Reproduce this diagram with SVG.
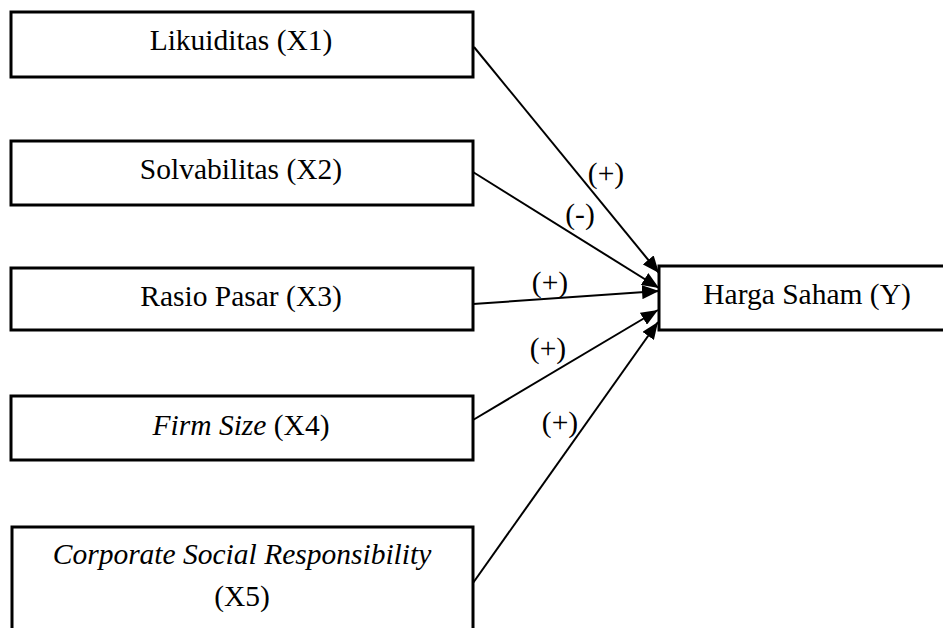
<svg xmlns="http://www.w3.org/2000/svg" width="943" height="628" viewBox="0 0 943 628">
<style>
.box{fill:#fff;stroke:#000;stroke-width:3}
.t{font-family:"Liberation Serif","Times New Roman",serif;font-size:29.5px;fill:#000;text-anchor:middle}
.i{font-style:italic}
.c{stroke:#000;stroke-width:2;fill:none;marker-end:url(#ah)}
</style>
<defs>
<marker id="ah" markerUnits="userSpaceOnUse" markerWidth="18" markerHeight="14" refX="17" refY="7" orient="auto">
<path d="M0,0 L17,7 L0,14 z" fill="#000"/>
</marker>
</defs>
<rect width="943" height="628" fill="#fff"/>
<g id="connectors">
<line class="c" x1="474" y1="47" x2="659" y2="273"/>
<line class="c" x1="473" y1="172" x2="659" y2="288"/>
<line class="c" x1="473" y1="304" x2="659" y2="291"/>
<line class="c" x1="473" y1="420" x2="658" y2="310"/>
<line class="c" x1="473" y1="583" x2="658" y2="322"/>
<text class="t" x="606" y="183">(+)</text>
<text class="t" x="580" y="224">(-)</text>
<text class="t" x="550" y="292">(+)</text>
<text class="t" x="548" y="358">(+)</text>
<text class="t" x="560" y="432">(+)</text>
</g>
<g id="x1">
<rect class="box" x="11" y="12" width="462" height="65"/>
<text class="t" x="241" y="50">Likuiditas (X1)</text>
</g>
<g id="x2">
<rect class="box" x="11" y="141" width="462" height="64"/>
<text class="t" x="241" y="179">Solvabilitas (X2)</text>
</g>
<g id="x3">
<rect class="box" x="11" y="268" width="462" height="62"/>
<text class="t" x="241" y="306">Rasio Pasar (X3)</text>
</g>
<g id="x4">
<rect class="box" x="11" y="396" width="462" height="64"/>
<text class="t" x="241" y="435"><tspan class="i">Firm Size</tspan> (X4)</text>
</g>
<g id="x5">
<rect class="box" x="12" y="527" width="461" height="120"/>
<text class="t i" x="242" y="564">Corporate Social Responsibility</text>
<text class="t" x="242" y="606">(X5)</text>
</g>
<g id="y">
<rect class="box" x="659" y="266" width="300" height="64"/>
<text class="t" x="807" y="304">Harga Saham (Y)</text>
</g>
</svg>
